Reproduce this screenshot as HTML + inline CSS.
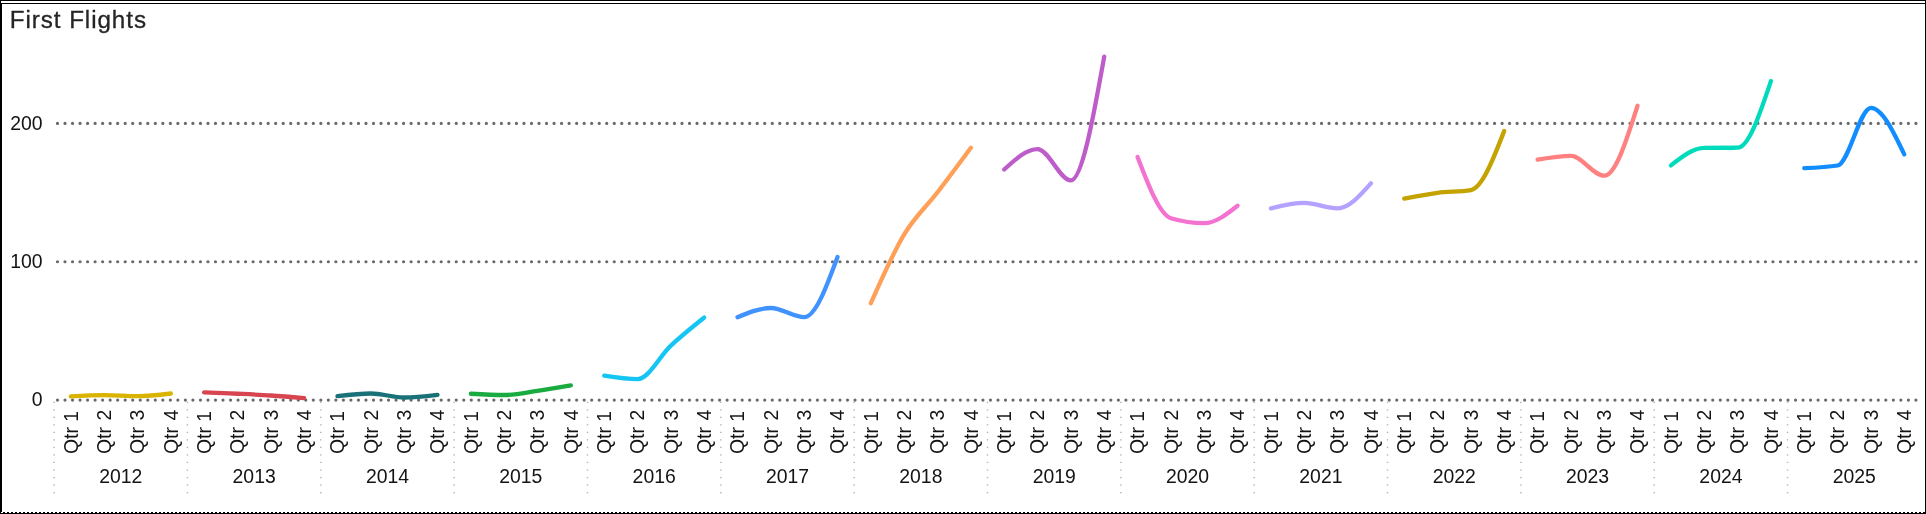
<!DOCTYPE html>
<html><head><meta charset="utf-8"><title>First Flights</title>
<style>
html,body{margin:0;padding:0;background:#fff;}
body{width:1926px;height:514px;overflow:hidden;}
svg{display:block;will-change:transform;}
text{font-family:'Liberation Sans', sans-serif;}
</style></head><body>
<svg width="1926" height="514" viewBox="0 0 1926 514">
<rect x="0" y="0" width="1926" height="514" fill="#fff"/>
<g shape-rendering="crispEdges" fill="#000">
<rect x="0" y="0" width="1926" height="1"/>
<rect x="0" y="3" width="1926" height="1"/>
<rect x="0" y="0" width="1" height="514"/>
<rect x="1" y="3" width="1" height="509"/>
<rect x="1925" y="0" width="1" height="514"/>
<rect x="0" y="513" width="1926" height="1"/>
</g>
<line x1="3" y1="512.5" x2="1925" y2="512.5" stroke="#000" stroke-width="1" stroke-dasharray="2 2" shape-rendering="crispEdges"/>
<text x="9.75" y="27.8" font-size="24.2" fill="#252423" stroke="#252423" stroke-width="0.3" letter-spacing="0.94">First Flights</text>
<line x1="57.48" y1="123.45" x2="1918" y2="123.45" stroke="#6a6a6a" stroke-width="3.2" stroke-linecap="round" stroke-dasharray="0.01 7.514"/>
<text x="42.6" y="130.35" font-size="19.4" fill="#141414" text-anchor="end">200</text>
<line x1="57.48" y1="261.75" x2="1918" y2="261.75" stroke="#6a6a6a" stroke-width="3.2" stroke-linecap="round" stroke-dasharray="0.01 7.514"/>
<text x="42.6" y="267.85" font-size="19.4" fill="#141414" text-anchor="end">100</text>
<line x1="57.48" y1="400.10" x2="1918" y2="400.10" stroke="#6a6a6a" stroke-width="3.2" stroke-linecap="round" stroke-dasharray="0.01 7.514"/>
<text x="42.6" y="406.40" font-size="19.4" fill="#141414" text-anchor="end">0</text>
<line x1="54.10" y1="401.7" x2="54.10" y2="494" stroke="#b2b0ae" stroke-width="1.45" stroke-dasharray="1.25 6.27"/>
<line x1="187.44" y1="401.7" x2="187.44" y2="494" stroke="#b2b0ae" stroke-width="1.45" stroke-dasharray="1.25 6.27"/>
<line x1="320.79" y1="401.7" x2="320.79" y2="494" stroke="#b2b0ae" stroke-width="1.45" stroke-dasharray="1.25 6.27"/>
<line x1="454.13" y1="401.7" x2="454.13" y2="494" stroke="#b2b0ae" stroke-width="1.45" stroke-dasharray="1.25 6.27"/>
<line x1="587.48" y1="401.7" x2="587.48" y2="494" stroke="#b2b0ae" stroke-width="1.45" stroke-dasharray="1.25 6.27"/>
<line x1="720.82" y1="401.7" x2="720.82" y2="494" stroke="#b2b0ae" stroke-width="1.45" stroke-dasharray="1.25 6.27"/>
<line x1="854.16" y1="401.7" x2="854.16" y2="494" stroke="#b2b0ae" stroke-width="1.45" stroke-dasharray="1.25 6.27"/>
<line x1="987.51" y1="401.7" x2="987.51" y2="494" stroke="#b2b0ae" stroke-width="1.45" stroke-dasharray="1.25 6.27"/>
<line x1="1120.85" y1="401.7" x2="1120.85" y2="494" stroke="#b2b0ae" stroke-width="1.45" stroke-dasharray="1.25 6.27"/>
<line x1="1254.20" y1="401.7" x2="1254.20" y2="494" stroke="#b2b0ae" stroke-width="1.45" stroke-dasharray="1.25 6.27"/>
<line x1="1387.54" y1="401.7" x2="1387.54" y2="494" stroke="#b2b0ae" stroke-width="1.45" stroke-dasharray="1.25 6.27"/>
<line x1="1520.88" y1="401.7" x2="1520.88" y2="494" stroke="#b2b0ae" stroke-width="1.45" stroke-dasharray="1.25 6.27"/>
<line x1="1654.23" y1="401.7" x2="1654.23" y2="494" stroke="#b2b0ae" stroke-width="1.45" stroke-dasharray="1.25 6.27"/>
<line x1="1787.57" y1="401.7" x2="1787.57" y2="494" stroke="#b2b0ae" stroke-width="1.45" stroke-dasharray="1.25 6.27"/>
<text transform="translate(77.50,454.1) rotate(-90)" font-size="19.45" fill="#141414">Qtr</text>
<text transform="translate(77.50,410.9) rotate(-90)" font-size="19.45" fill="#141414" text-anchor="end">1</text>
<text transform="translate(110.84,454.1) rotate(-90)" font-size="19.45" fill="#141414">Qtr</text>
<text transform="translate(110.84,409.6) rotate(-90)" font-size="19.45" fill="#141414" text-anchor="end">2</text>
<text transform="translate(144.17,454.1) rotate(-90)" font-size="19.45" fill="#141414">Qtr</text>
<text transform="translate(144.17,409.6) rotate(-90)" font-size="19.45" fill="#141414" text-anchor="end">3</text>
<text transform="translate(177.51,454.1) rotate(-90)" font-size="19.45" fill="#141414">Qtr</text>
<text transform="translate(177.51,409.6) rotate(-90)" font-size="19.45" fill="#141414" text-anchor="end">4</text>
<text x="120.80" y="482.7" font-size="19.4" fill="#141414" text-anchor="middle">2012</text>
<text transform="translate(210.84,454.1) rotate(-90)" font-size="19.45" fill="#141414">Qtr</text>
<text transform="translate(210.84,410.9) rotate(-90)" font-size="19.45" fill="#141414" text-anchor="end">1</text>
<text transform="translate(244.18,454.1) rotate(-90)" font-size="19.45" fill="#141414">Qtr</text>
<text transform="translate(244.18,409.6) rotate(-90)" font-size="19.45" fill="#141414" text-anchor="end">2</text>
<text transform="translate(277.52,454.1) rotate(-90)" font-size="19.45" fill="#141414">Qtr</text>
<text transform="translate(277.52,409.6) rotate(-90)" font-size="19.45" fill="#141414" text-anchor="end">3</text>
<text transform="translate(310.85,454.1) rotate(-90)" font-size="19.45" fill="#141414">Qtr</text>
<text transform="translate(310.85,409.6) rotate(-90)" font-size="19.45" fill="#141414" text-anchor="end">4</text>
<text x="254.15" y="482.7" font-size="19.4" fill="#141414" text-anchor="middle">2013</text>
<text transform="translate(344.19,454.1) rotate(-90)" font-size="19.45" fill="#141414">Qtr</text>
<text transform="translate(344.19,410.9) rotate(-90)" font-size="19.45" fill="#141414" text-anchor="end">1</text>
<text transform="translate(377.52,454.1) rotate(-90)" font-size="19.45" fill="#141414">Qtr</text>
<text transform="translate(377.52,409.6) rotate(-90)" font-size="19.45" fill="#141414" text-anchor="end">2</text>
<text transform="translate(410.86,454.1) rotate(-90)" font-size="19.45" fill="#141414">Qtr</text>
<text transform="translate(410.86,409.6) rotate(-90)" font-size="19.45" fill="#141414" text-anchor="end">3</text>
<text transform="translate(444.20,454.1) rotate(-90)" font-size="19.45" fill="#141414">Qtr</text>
<text transform="translate(444.20,409.6) rotate(-90)" font-size="19.45" fill="#141414" text-anchor="end">4</text>
<text x="387.49" y="482.7" font-size="19.4" fill="#141414" text-anchor="middle">2014</text>
<text transform="translate(477.53,454.1) rotate(-90)" font-size="19.45" fill="#141414">Qtr</text>
<text transform="translate(477.53,410.9) rotate(-90)" font-size="19.45" fill="#141414" text-anchor="end">1</text>
<text transform="translate(510.87,454.1) rotate(-90)" font-size="19.45" fill="#141414">Qtr</text>
<text transform="translate(510.87,409.6) rotate(-90)" font-size="19.45" fill="#141414" text-anchor="end">2</text>
<text transform="translate(544.20,454.1) rotate(-90)" font-size="19.45" fill="#141414">Qtr</text>
<text transform="translate(544.20,409.6) rotate(-90)" font-size="19.45" fill="#141414" text-anchor="end">3</text>
<text transform="translate(577.54,454.1) rotate(-90)" font-size="19.45" fill="#141414">Qtr</text>
<text transform="translate(577.54,409.6) rotate(-90)" font-size="19.45" fill="#141414" text-anchor="end">4</text>
<text x="520.84" y="482.7" font-size="19.4" fill="#141414" text-anchor="middle">2015</text>
<text transform="translate(610.88,454.1) rotate(-90)" font-size="19.45" fill="#141414">Qtr</text>
<text transform="translate(610.88,410.9) rotate(-90)" font-size="19.45" fill="#141414" text-anchor="end">1</text>
<text transform="translate(644.21,454.1) rotate(-90)" font-size="19.45" fill="#141414">Qtr</text>
<text transform="translate(644.21,409.6) rotate(-90)" font-size="19.45" fill="#141414" text-anchor="end">2</text>
<text transform="translate(677.55,454.1) rotate(-90)" font-size="19.45" fill="#141414">Qtr</text>
<text transform="translate(677.55,409.6) rotate(-90)" font-size="19.45" fill="#141414" text-anchor="end">3</text>
<text transform="translate(710.88,454.1) rotate(-90)" font-size="19.45" fill="#141414">Qtr</text>
<text transform="translate(710.88,409.6) rotate(-90)" font-size="19.45" fill="#141414" text-anchor="end">4</text>
<text x="654.18" y="482.7" font-size="19.4" fill="#141414" text-anchor="middle">2016</text>
<text transform="translate(744.22,454.1) rotate(-90)" font-size="19.45" fill="#141414">Qtr</text>
<text transform="translate(744.22,410.9) rotate(-90)" font-size="19.45" fill="#141414" text-anchor="end">1</text>
<text transform="translate(777.56,454.1) rotate(-90)" font-size="19.45" fill="#141414">Qtr</text>
<text transform="translate(777.56,409.6) rotate(-90)" font-size="19.45" fill="#141414" text-anchor="end">2</text>
<text transform="translate(810.89,454.1) rotate(-90)" font-size="19.45" fill="#141414">Qtr</text>
<text transform="translate(810.89,409.6) rotate(-90)" font-size="19.45" fill="#141414" text-anchor="end">3</text>
<text transform="translate(844.23,454.1) rotate(-90)" font-size="19.45" fill="#141414">Qtr</text>
<text transform="translate(844.23,409.6) rotate(-90)" font-size="19.45" fill="#141414" text-anchor="end">4</text>
<text x="787.52" y="482.7" font-size="19.4" fill="#141414" text-anchor="middle">2017</text>
<text transform="translate(877.56,454.1) rotate(-90)" font-size="19.45" fill="#141414">Qtr</text>
<text transform="translate(877.56,410.9) rotate(-90)" font-size="19.45" fill="#141414" text-anchor="end">1</text>
<text transform="translate(910.90,454.1) rotate(-90)" font-size="19.45" fill="#141414">Qtr</text>
<text transform="translate(910.90,409.6) rotate(-90)" font-size="19.45" fill="#141414" text-anchor="end">2</text>
<text transform="translate(944.24,454.1) rotate(-90)" font-size="19.45" fill="#141414">Qtr</text>
<text transform="translate(944.24,409.6) rotate(-90)" font-size="19.45" fill="#141414" text-anchor="end">3</text>
<text transform="translate(977.57,454.1) rotate(-90)" font-size="19.45" fill="#141414">Qtr</text>
<text transform="translate(977.57,409.6) rotate(-90)" font-size="19.45" fill="#141414" text-anchor="end">4</text>
<text x="920.87" y="482.7" font-size="19.4" fill="#141414" text-anchor="middle">2018</text>
<text transform="translate(1010.91,454.1) rotate(-90)" font-size="19.45" fill="#141414">Qtr</text>
<text transform="translate(1010.91,410.9) rotate(-90)" font-size="19.45" fill="#141414" text-anchor="end">1</text>
<text transform="translate(1044.24,454.1) rotate(-90)" font-size="19.45" fill="#141414">Qtr</text>
<text transform="translate(1044.24,409.6) rotate(-90)" font-size="19.45" fill="#141414" text-anchor="end">2</text>
<text transform="translate(1077.58,454.1) rotate(-90)" font-size="19.45" fill="#141414">Qtr</text>
<text transform="translate(1077.58,409.6) rotate(-90)" font-size="19.45" fill="#141414" text-anchor="end">3</text>
<text transform="translate(1110.92,454.1) rotate(-90)" font-size="19.45" fill="#141414">Qtr</text>
<text transform="translate(1110.92,409.6) rotate(-90)" font-size="19.45" fill="#141414" text-anchor="end">4</text>
<text x="1054.21" y="482.7" font-size="19.4" fill="#141414" text-anchor="middle">2019</text>
<text transform="translate(1144.25,454.1) rotate(-90)" font-size="19.45" fill="#141414">Qtr</text>
<text transform="translate(1144.25,410.9) rotate(-90)" font-size="19.45" fill="#141414" text-anchor="end">1</text>
<text transform="translate(1177.59,454.1) rotate(-90)" font-size="19.45" fill="#141414">Qtr</text>
<text transform="translate(1177.59,409.6) rotate(-90)" font-size="19.45" fill="#141414" text-anchor="end">2</text>
<text transform="translate(1210.92,454.1) rotate(-90)" font-size="19.45" fill="#141414">Qtr</text>
<text transform="translate(1210.92,409.6) rotate(-90)" font-size="19.45" fill="#141414" text-anchor="end">3</text>
<text transform="translate(1244.26,454.1) rotate(-90)" font-size="19.45" fill="#141414">Qtr</text>
<text transform="translate(1244.26,409.6) rotate(-90)" font-size="19.45" fill="#141414" text-anchor="end">4</text>
<text x="1187.56" y="482.7" font-size="19.4" fill="#141414" text-anchor="middle">2020</text>
<text transform="translate(1277.60,454.1) rotate(-90)" font-size="19.45" fill="#141414">Qtr</text>
<text transform="translate(1277.60,410.9) rotate(-90)" font-size="19.45" fill="#141414" text-anchor="end">1</text>
<text transform="translate(1310.93,454.1) rotate(-90)" font-size="19.45" fill="#141414">Qtr</text>
<text transform="translate(1310.93,409.6) rotate(-90)" font-size="19.45" fill="#141414" text-anchor="end">2</text>
<text transform="translate(1344.27,454.1) rotate(-90)" font-size="19.45" fill="#141414">Qtr</text>
<text transform="translate(1344.27,409.6) rotate(-90)" font-size="19.45" fill="#141414" text-anchor="end">3</text>
<text transform="translate(1377.60,454.1) rotate(-90)" font-size="19.45" fill="#141414">Qtr</text>
<text transform="translate(1377.60,409.6) rotate(-90)" font-size="19.45" fill="#141414" text-anchor="end">4</text>
<text x="1320.90" y="482.7" font-size="19.4" fill="#141414" text-anchor="middle">2021</text>
<text transform="translate(1410.94,454.1) rotate(-90)" font-size="19.45" fill="#141414">Qtr</text>
<text transform="translate(1410.94,410.9) rotate(-90)" font-size="19.45" fill="#141414" text-anchor="end">1</text>
<text transform="translate(1444.28,454.1) rotate(-90)" font-size="19.45" fill="#141414">Qtr</text>
<text transform="translate(1444.28,409.6) rotate(-90)" font-size="19.45" fill="#141414" text-anchor="end">2</text>
<text transform="translate(1477.61,454.1) rotate(-90)" font-size="19.45" fill="#141414">Qtr</text>
<text transform="translate(1477.61,409.6) rotate(-90)" font-size="19.45" fill="#141414" text-anchor="end">3</text>
<text transform="translate(1510.95,454.1) rotate(-90)" font-size="19.45" fill="#141414">Qtr</text>
<text transform="translate(1510.95,409.6) rotate(-90)" font-size="19.45" fill="#141414" text-anchor="end">4</text>
<text x="1454.24" y="482.7" font-size="19.4" fill="#141414" text-anchor="middle">2022</text>
<text transform="translate(1544.28,454.1) rotate(-90)" font-size="19.45" fill="#141414">Qtr</text>
<text transform="translate(1544.28,410.9) rotate(-90)" font-size="19.45" fill="#141414" text-anchor="end">1</text>
<text transform="translate(1577.62,454.1) rotate(-90)" font-size="19.45" fill="#141414">Qtr</text>
<text transform="translate(1577.62,409.6) rotate(-90)" font-size="19.45" fill="#141414" text-anchor="end">2</text>
<text transform="translate(1610.96,454.1) rotate(-90)" font-size="19.45" fill="#141414">Qtr</text>
<text transform="translate(1610.96,409.6) rotate(-90)" font-size="19.45" fill="#141414" text-anchor="end">3</text>
<text transform="translate(1644.29,454.1) rotate(-90)" font-size="19.45" fill="#141414">Qtr</text>
<text transform="translate(1644.29,409.6) rotate(-90)" font-size="19.45" fill="#141414" text-anchor="end">4</text>
<text x="1587.59" y="482.7" font-size="19.4" fill="#141414" text-anchor="middle">2023</text>
<text transform="translate(1677.63,454.1) rotate(-90)" font-size="19.45" fill="#141414">Qtr</text>
<text transform="translate(1677.63,410.9) rotate(-90)" font-size="19.45" fill="#141414" text-anchor="end">1</text>
<text transform="translate(1710.96,454.1) rotate(-90)" font-size="19.45" fill="#141414">Qtr</text>
<text transform="translate(1710.96,409.6) rotate(-90)" font-size="19.45" fill="#141414" text-anchor="end">2</text>
<text transform="translate(1744.30,454.1) rotate(-90)" font-size="19.45" fill="#141414">Qtr</text>
<text transform="translate(1744.30,409.6) rotate(-90)" font-size="19.45" fill="#141414" text-anchor="end">3</text>
<text transform="translate(1777.64,454.1) rotate(-90)" font-size="19.45" fill="#141414">Qtr</text>
<text transform="translate(1777.64,409.6) rotate(-90)" font-size="19.45" fill="#141414" text-anchor="end">4</text>
<text x="1720.93" y="482.7" font-size="19.4" fill="#141414" text-anchor="middle">2024</text>
<text transform="translate(1810.97,454.1) rotate(-90)" font-size="19.45" fill="#141414">Qtr</text>
<text transform="translate(1810.97,410.9) rotate(-90)" font-size="19.45" fill="#141414" text-anchor="end">1</text>
<text transform="translate(1844.31,454.1) rotate(-90)" font-size="19.45" fill="#141414">Qtr</text>
<text transform="translate(1844.31,409.6) rotate(-90)" font-size="19.45" fill="#141414" text-anchor="end">2</text>
<text transform="translate(1877.64,454.1) rotate(-90)" font-size="19.45" fill="#141414">Qtr</text>
<text transform="translate(1877.64,409.6) rotate(-90)" font-size="19.45" fill="#141414" text-anchor="end">3</text>
<text transform="translate(1910.98,454.1) rotate(-90)" font-size="19.45" fill="#141414">Qtr</text>
<text transform="translate(1910.98,409.6) rotate(-90)" font-size="19.45" fill="#141414" text-anchor="end">4</text>
<text x="1854.28" y="482.7" font-size="19.4" fill="#141414" text-anchor="middle">2025</text>
<path d="M70.80,396.40C81.91,395.72,93.02,395.05,104.14,395.05C115.25,395.05,126.36,396.10,137.47,396.10C148.58,396.10,159.70,394.80,170.81,393.50" fill="none" stroke="#D9B300" stroke-width="4.3" stroke-linecap="round" stroke-linejoin="round"/>
<path d="M204.14,392.30C215.26,392.76,226.37,393.22,237.48,393.75C248.59,394.28,259.70,394.77,270.82,395.50C281.93,396.23,293.04,397.16,304.15,398.10" fill="none" stroke="#D64550" stroke-width="4.3" stroke-linecap="round" stroke-linejoin="round"/>
<path d="M337.49,396.20C348.60,394.85,359.71,393.50,370.82,393.50C381.94,393.50,393.05,397.50,404.16,397.50C415.27,397.50,426.38,396.15,437.50,394.80" fill="none" stroke="#197278" stroke-width="4.3" stroke-linecap="round" stroke-linejoin="round"/>
<path d="M470.83,393.75C481.94,394.38,493.06,395.00,504.17,395.00C515.28,395.00,526.39,392.40,537.50,390.80C548.62,389.20,559.73,387.30,570.84,385.40" fill="none" stroke="#1AAB40" stroke-width="4.3" stroke-linecap="round" stroke-linejoin="round"/>
<path d="M604.18,375.60C615.29,377.35,626.40,379.10,637.51,379.10C648.62,379.10,659.74,355.85,670.85,345.60C681.96,335.35,693.07,326.48,704.18,317.60" fill="none" stroke="#15C6F4" stroke-width="4.3" stroke-linecap="round" stroke-linejoin="round"/>
<path d="M737.52,317.20C748.63,312.60,759.74,308.00,770.86,308.00C781.97,308.00,793.08,317.20,804.19,317.20C815.30,317.20,826.42,287.05,837.53,256.90" fill="none" stroke="#4092FF" stroke-width="4.3" stroke-linecap="round" stroke-linejoin="round"/>
<path d="M870.86,303.20C881.98,278.04,893.09,252.88,904.20,234.40C915.31,215.92,926.42,206.73,937.54,192.30C948.65,177.87,959.76,162.83,970.87,147.80" fill="none" stroke="#FFA058" stroke-width="4.3" stroke-linecap="round" stroke-linejoin="round"/>
<path d="M1004.21,169.50C1015.32,159.30,1026.43,149.10,1037.54,149.10C1048.66,149.10,1059.77,180.40,1070.88,180.40C1081.99,180.40,1093.10,118.50,1104.22,56.60" fill="none" stroke="#BE5DC9" stroke-width="4.3" stroke-linecap="round" stroke-linejoin="round"/>
<path d="M1137.55,156.90C1148.66,185.88,1159.78,214.87,1170.89,218.20C1182.00,221.53,1193.11,223.20,1204.22,223.20C1215.34,223.20,1226.45,214.45,1237.56,205.70" fill="none" stroke="#F472D0" stroke-width="4.3" stroke-linecap="round" stroke-linejoin="round"/>
<path d="M1270.90,208.40C1282.01,205.68,1293.12,202.95,1304.23,202.95C1315.34,202.95,1326.46,208.40,1337.57,208.40C1348.68,208.40,1359.79,195.90,1370.90,183.40" fill="none" stroke="#B5A1FF" stroke-width="4.3" stroke-linecap="round" stroke-linejoin="round"/>
<path d="M1404.24,198.60C1415.35,196.41,1426.46,194.22,1437.58,192.80C1448.69,191.38,1459.80,191.88,1470.91,190.05C1482.02,188.22,1493.14,159.56,1504.25,130.90" fill="none" stroke="#C4A200" stroke-width="4.3" stroke-linecap="round" stroke-linejoin="round"/>
<path d="M1537.58,159.70C1548.70,157.80,1559.81,155.90,1570.92,155.90C1582.03,155.90,1593.14,175.70,1604.26,175.70C1615.37,175.70,1626.48,140.70,1637.59,105.70" fill="none" stroke="#FF8080" stroke-width="4.3" stroke-linecap="round" stroke-linejoin="round"/>
<path d="M1670.93,165.40C1682.04,156.72,1693.15,148.03,1704.26,147.90C1715.38,147.77,1726.49,147.83,1737.60,147.70C1748.71,147.57,1759.82,114.28,1770.94,81.00" fill="none" stroke="#00DBBC" stroke-width="4.3" stroke-linecap="round" stroke-linejoin="round"/>
<path d="M1804.27,168.20C1815.38,167.75,1826.50,167.30,1837.61,165.50C1848.72,163.70,1859.83,107.80,1870.94,107.80C1882.06,107.80,1893.17,131.10,1904.28,154.40" fill="none" stroke="#118DFF" stroke-width="4.3" stroke-linecap="round" stroke-linejoin="round"/>
</svg>
</body></html>
